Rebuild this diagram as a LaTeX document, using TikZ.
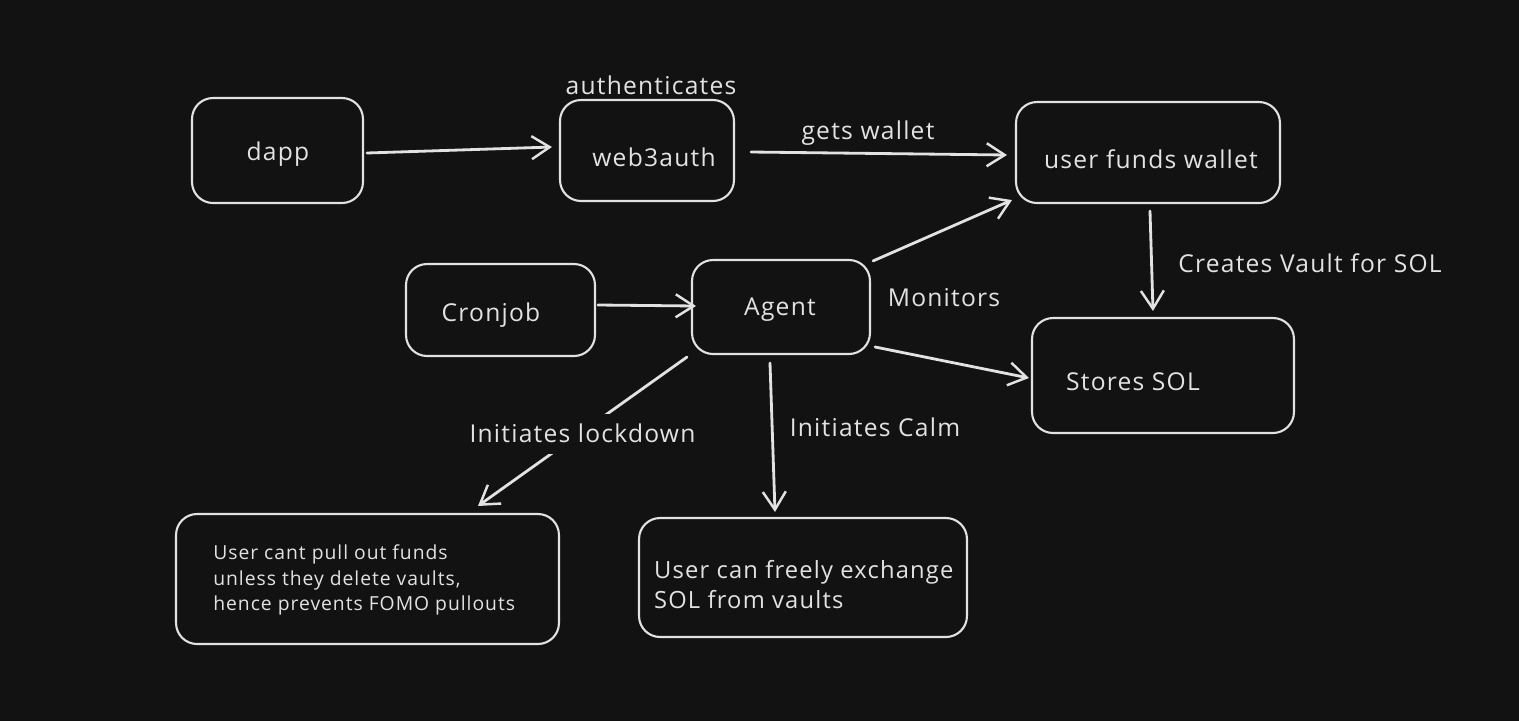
\documentclass[tikz,border=0pt]{standalone}
\usepackage{fontspec}
\setmainfont[LetterSpace=5]{Open Sans}
\usetikzlibrary{arrows.meta,calc}
\definecolor{bg}{HTML}{121212}
\definecolor{fg}{HTML}{E2E2E2}
\tikzset{
  boxnode/.style={draw=fg, line width=1.2pt, rounded corners=0.42cm, inner sep=0pt, text=fg, font=\fontsize{14}{17}\selectfont},
  txt/.style={text=fg, font=\fontsize{14}{17}\selectfont, inner sep=1pt, yshift=-1.2pt},
  smalltxt/.style={text=fg, font=\fontsize{11}{14.5}\selectfont, align=left, inner sep=0pt, yshift=-1.7pt},
  conn/.style={draw=fg, line width=1.6pt, line cap=round, -{Straight Barb[length=0.36cm, width=0.46cm, line width=1.4pt]}},
}
\begin{document}
\begin{tikzpicture}[x=0.02cm, y=-0.02cm]
\fill[bg] (0,0) rectangle (1519,721);
\useasboundingbox (0,0) rectangle (1519,721);

% boxes
\node[boxnode, minimum width=3.42cm, minimum height=2.10cm] (dapp) at (277.5,150.5) {};
\node[txt] (dappt) at (278,152) {dapp};
\node[boxnode, minimum width=3.48cm, minimum height=2.02cm] (web3) at (647,150.5) {};
\node[txt] (web3t) at (654,155) {web3auth};
\node[boxnode, minimum width=5.28cm, minimum height=2.02cm] (wallet) at (1148,152.5) {};
\node[txt] (wallett) at (1151,157) {user funds wallet};
\node[boxnode, minimum width=3.78cm, minimum height=1.84cm] (cron) at (500.5,310) {};
\node[txt] (cront) at (491,313) {Cronjob};
\node[boxnode, minimum width=3.56cm, minimum height=1.88cm] (agent) at (781,307) {};
\node[txt] (agentt) at (780,308) {Agent};
\node[boxnode, minimum width=5.24cm, minimum height=2.30cm] (stores) at (1163,375.5) {};
\node[txt] (storest) at (1133,380) {Stores SOL};
\node[boxnode, minimum width=7.66cm, minimum height=2.60cm] (lock) at (367.5,579) {};
\node[smalltxt, anchor=west] (lockt) at (213,577) {User cant pull out funds\\unless they delete vaults,\\hence prevents FOMO pullouts};
\node[boxnode, minimum width=6.56cm, minimum height=2.38cm] (calm) at (803,577.5) {};
\node[txt, anchor=west, align=left, font=\fontsize{13.5}{17}\selectfont] (calmt) at (652,582) {User can freely exchange\\SOL from vaults};

% labels
\node[txt] (authl) at (651,83) {authenticates};
\node[txt] (getsl) at (868,131) {gets wallet};
\node[txt] (monl) at (944,295) {Monitors};
\node[txt] (vaultl) at (1310,261) {Creates Vault for SOL};
\node[txt] (calml) at (875,425) {Initiates Calm};

% connectors
\draw[conn] ($(dapp.east)+(3,2.5)$) -- ($(web3.west)+(-7,-3.5)$);
\draw[conn] ($(web3.east)+(16,1.5)$) -- ($(wallet.west)+(-8,2.5)$);
\draw[conn] ($(cron.east)+(2,-5)$) -- ($(agent.west)+(5,-1)$);
\draw[conn] ($(agent.north east)+(2,2)$) -- ($(wallet.south west)+(-3,-4)$);
\draw[conn] ($(agent.east)+(4,40)$) -- ($(stores.west)+(-2,2.5)$);
\draw[conn] ($(wallet.south)+(2,7)$) -- ($(stores.north)+(-10,-6)$);
\draw[conn] ($(agent.south west)+(-4,2)$) -- node[txt, fill=bg, inner sep=6pt] (lockl) {Initiates lockdown} ($(lock.north)+(110.5,-7)$);
\draw[conn] ($(agent.south)+(-11,8)$) -- ($(calm.north)+(-28,-5)$);
\end{tikzpicture}
\end{document}
